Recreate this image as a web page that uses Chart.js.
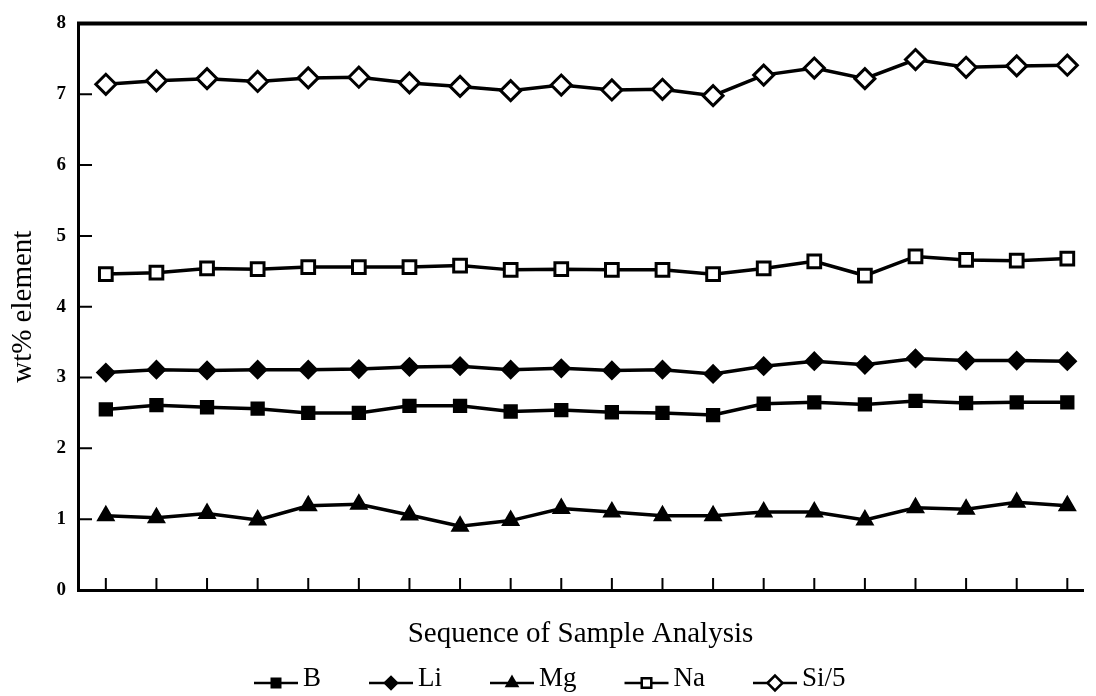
<!DOCTYPE html>
<html>
<head>
<meta charset="utf-8">
<script src="https://cdn.jsdelivr.net/npm/chart.js@4/dist/chart.umd.min.js"></script>
<style>
  html, body { margin: 0; padding: 0; background: #fff; }
  #wrap { width: 1096px; height: 696px; }
</style>
</head>
<body>
<div id="wrap"><canvas id="chart"></canvas></div>
<script>
const samples = [1, 2, 3, 4, 5, 6, 7, 8, 9, 10, 11, 12, 13, 14, 15, 16, 17, 18, 19, 20];
const yTicks = [0, 1, 2, 3, 4, 5, 6, 7, 8];

const boron = [2.55, 2.61, 2.58, 2.56, 2.50, 2.50, 2.60, 2.60, 2.52, 2.54, 2.51, 2.50, 2.47, 2.63, 2.65, 2.62, 2.67, 2.64, 2.65, 2.65];
const lithium = [3.07, 3.11, 3.10, 3.11, 3.11, 3.12, 3.15, 3.16, 3.11, 3.13, 3.10, 3.11, 3.05, 3.16, 3.23, 3.18, 3.27, 3.24, 3.24, 3.23];
const magnesium = [1.05, 1.02, 1.08, 0.99, 1.19, 1.21, 1.06, 0.90, 0.98, 1.15, 1.10, 1.05, 1.05, 1.10, 1.10, 0.99, 1.16, 1.14, 1.24, 1.19];
const sodium = [4.46, 4.48, 4.54, 4.53, 4.56, 4.56, 4.56, 4.58, 4.52, 4.53, 4.52, 4.52, 4.46, 4.54, 4.64, 4.44, 4.71, 4.66, 4.65, 4.68];
const siliconFifth = [7.14, 7.19, 7.22, 7.18, 7.23, 7.24, 7.16, 7.11, 7.05, 7.13, 7.06, 7.07, 6.98, 7.27, 7.37, 7.22, 7.49, 7.38, 7.40, 7.41];

const serif = "'Liberation Serif', 'DejaVu Serif', serif";

function series(label, values, style, radius, filled) {
  return {
    label,
    data: values.map((v, i) => ({ x: samples[i], y: v })),
    borderColor: "#000",
    borderWidth: 3.5,
    pointStyle: style,
    pointRadius: radius,
    pointBorderWidth: 3,
    pointBorderColor: "#000",
    pointBackgroundColor: filled ? "#000" : "#fff",
    tension: 0,
  };
}

// inward ticks, top frame line and the line+marker legend
const framePlugin = {
  id: "frame",
  afterDraw(chart) {
    const { ctx, chartArea, scales } = chart;
    ctx.save();
    ctx.strokeStyle = "#000";
    ctx.lineWidth = 2;
    ctx.beginPath();
    samples.forEach((s) => {
      const x = scales.x.getPixelForValue(s);
      ctx.moveTo(x, chartArea.bottom);
      ctx.lineTo(x, chartArea.bottom - 12);
    });
    yTicks.slice(1, -1).forEach((t) => {
      const y = scales.y.getPixelForValue(t);
      ctx.moveTo(chartArea.left, y);
      ctx.lineTo(chartArea.left + 14, y);
    });
    ctx.stroke();

    ctx.lineWidth = 4;
    ctx.beginPath();
    ctx.moveTo(chartArea.left - 1, chartArea.top);
    ctx.lineTo(chartArea.right + 4, chartArea.top);
    ctx.stroke();

    // legend
    ctx.font = "27px " + serif;
    ctx.textBaseline = "middle";
    let x = 254;
    const y = 681;
    chart.data.datasets.forEach((ds) => {
      ctx.strokeStyle = "#000";
      ctx.lineWidth = 2.5;
      ctx.beginPath();
      ctx.moveTo(x, y + 2);
      ctx.lineTo(x + 44, y + 2);
      ctx.stroke();
      ctx.fillStyle = ds.pointBackgroundColor;
      Chart.helpers.drawPoint(ctx, {
        pointStyle: ds.pointStyle,
        radius: ds.pointRadius * 0.75,
        borderWidth: 2,
      }, x + 22, y + 2);
      ctx.fillStyle = "#000";
      ctx.fillText(ds.label, x + 49, y - 2);
      x += 49 + ctx.measureText(ds.label).width + 48;
    });
    ctx.restore();
  },
};

new Chart(document.getElementById("chart"), {
  type: "line",
  data: {
    datasets: [
      series("B", boron, "rect", 8, true),
      series("Li", lithium, "rectRot", 8, true),
      series("Mg", magnesium, "triangle", 8, true),
      series("Na", sodium, "rect", 9, false),
      series("Si/5", siliconFifth, "rectRot", 10, false),
    ],
  },
  options: {
    responsive: true,
    maintainAspectRatio: false,
    animation: false,
    layout: { padding: { left: 0, right: 4, top: 16, bottom: 40 } },
    plugins: {
      legend: { display: false },
      tooltip: { enabled: false },
    },
    scales: {
      x: {
        type: "linear",
        min: 0.45,
        max: 20.31,
        grid: { display: false },
        border: { display: true, color: "#000", width: 3 },
        ticks: { display: false, stepSize: 1 },
        title: {
          display: true,
          text: "Sequence of Sample Analysis",
          color: "#000",
          font: { family: serif, size: 29 },
          padding: { top: 0, bottom: 4 },
        },
        afterFit(scale) { scale.height = 66; },
      },
      y: {
        min: 0,
        max: 8,
        grid: { display: false, drawTicks: false },
        border: { display: true, color: "#000", width: 3 },
        afterBuildTicks(scale) { scale.ticks = yTicks.map((v) => ({ value: v })); },
        ticks: {
          color: "#000",
          padding: 12,
          font: { family: serif, size: 19, weight: "bold" },
        },
        title: {
          display: true,
          text: "wt% element",
          color: "#000",
          font: { family: serif, size: 29 },
          padding: { top: 6, bottom: 0 },
        },
        afterFit(scale) { scale.width = 78; },
      },
    },
  },
  plugins: [framePlugin],
});
</script>
</body>
</html>
